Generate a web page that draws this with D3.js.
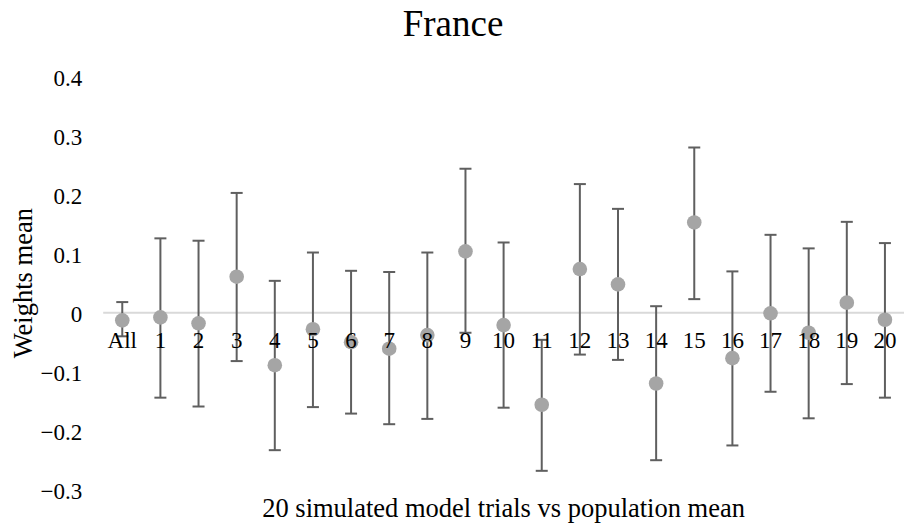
<!DOCTYPE html>
<html>
<head>
<meta charset="utf-8">
<script src="https://cdn.jsdelivr.net/npm/d3@7"></script>
<style>
  html, body { margin: 0; padding: 0; background: #fff; }
  svg { display: block; }
  text { font-family: "Liberation Serif", "Times New Roman", serif; fill: #000; }
</style>
</head>
<body>
<svg id="chart" width="905" height="528"></svg>
<script>
// Trial labels: the pooled estimate followed by 20 simulated trials
const categories = ["All", "1", "2", "3", "4", "5", "6", "7", "8", "9", "10",
  "11", "12", "13", "14", "15", "16", "17", "18", "19", "20"];

// Mean weight for each trial
const means = [-0.013, -0.008, -0.018, 0.061, -0.089, -0.028, -0.050, -0.061, -0.038, 0.104, -0.021,
  -0.156, 0.074, 0.048, -0.120, 0.153, -0.077, -0.001, -0.034, 0.017, -0.012];

// Upper and lower ends of the error bars
const upper = [0.018, 0.126, 0.122, 0.203, 0.054, 0.102, 0.071, 0.069, 0.102, 0.244, 0.119,
  -0.046, 0.218, 0.176, 0.011, 0.280, 0.070, 0.132, 0.109, 0.154, 0.118];
const lower = [-0.040, -0.144, -0.159, -0.082, -0.233, -0.160, -0.171, -0.189, -0.180, -0.034, -0.161,
  -0.268, -0.071, -0.080, -0.250, 0.023, -0.225, -0.134, -0.179, -0.121, -0.144];

const yTicks = [-0.3, -0.2, -0.1, 0, 0.1, 0.2, 0.3, 0.4];

const titleText = "France";
const xTitle = "20 simulated model trials vs population mean";
const yTitle = "Weights mean";

const svg = d3.select("#chart");
const plot = { left: 103.2, right: 904, top: 76.7, bottom: 489.7 };

const x = d3.scaleBand().domain(categories).range([plot.left, plot.right]).padding(0);
const y = d3.scaleLinear().domain([-0.3, 0.4]).range([plot.bottom, plot.top]);
const cx = c => x(c) + x.bandwidth() / 2;

const rows = categories.map((c, i) => ({ c, m: means[i], hi: upper[i], lo: lower[i] }));

// Title
svg.append("text")
  .attr("x", 453).attr("y", 36)
  .attr("text-anchor", "middle")
  .style("font-size", "37px")
  .text(titleText);

// Value axis (labels only)
const fmt = v => (Math.abs(v) < 1e-9 ? "0" : d3.format(".1f")(v));
const yAxis = svg.append("g")
  .attr("transform", `translate(${plot.left - 21},0)`)
  .call(d3.axisLeft(y).tickValues(yTicks).tickFormat(fmt).tickSize(0).tickPadding(0));
yAxis.select(".domain").remove();
yAxis.selectAll("text")
  .style("font-size", "23px")
  .style("font-family", "'Liberation Serif', 'Times New Roman', serif")
  .attr("fill", "#000")
  .attr("dy", "0.38em");

// Zero line
svg.append("line")
  .attr("x1", plot.left).attr("x2", plot.right)
  .attr("y1", y(0)).attr("y2", y(0))
  .attr("stroke", "#d9d9d9").attr("stroke-width", 2);

// Error bars
const bars = svg.append("g").attr("stroke", "#5f5f5f").attr("stroke-width", 2).attr("fill", "none");
bars.selectAll("line.v").data(rows).join("line").attr("class", "v")
  .attr("x1", d => cx(d.c)).attr("x2", d => cx(d.c))
  .attr("y1", d => y(d.hi)).attr("y2", d => y(d.lo));
bars.selectAll("line.t").data(rows).join("line").attr("class", "t")
  .attr("x1", d => cx(d.c) - 6).attr("x2", d => cx(d.c) + 6)
  .attr("y1", d => y(d.hi)).attr("y2", d => y(d.hi));
bars.selectAll("line.b").data(rows).join("line").attr("class", "b")
  .attr("x1", d => cx(d.c) - 6).attr("x2", d => cx(d.c) + 6)
  .attr("y1", d => y(d.lo)).attr("y2", d => y(d.lo));

// Mean markers
svg.append("g").selectAll("circle").data(rows).join("circle")
  .attr("cx", d => cx(d.c)).attr("cy", d => y(d.m))
  .attr("r", 7.3)
  .attr("fill", "#a5a5a5");

// Category axis labels sitting just under the zero line
const xAxis = svg.append("g")
  .attr("transform", `translate(0,${y(0)})`)
  .call(d3.axisBottom(x).tickSize(0).tickPadding(0));
xAxis.select(".domain").remove();
xAxis.selectAll("text")
  .style("font-size", "23px")
  .style("font-family", "'Liberation Serif', 'Times New Roman', serif")
  .attr("fill", "#000")
  .attr("y", 35.3).attr("dy", "0");

// Axis titles
svg.append("text")
  .attr("x", (plot.left + plot.right) / 2).attr("y", 516.7)
  .attr("text-anchor", "middle")
  .style("font-size", "26.5px")
  .text(xTitle);

svg.append("text")
  .attr("transform", `translate(32,${(plot.top + plot.bottom) / 2}) rotate(-90)`)
  .attr("text-anchor", "middle")
  .style("font-size", "26.5px")
  .text(yTitle);
</script>
</body>
</html>
